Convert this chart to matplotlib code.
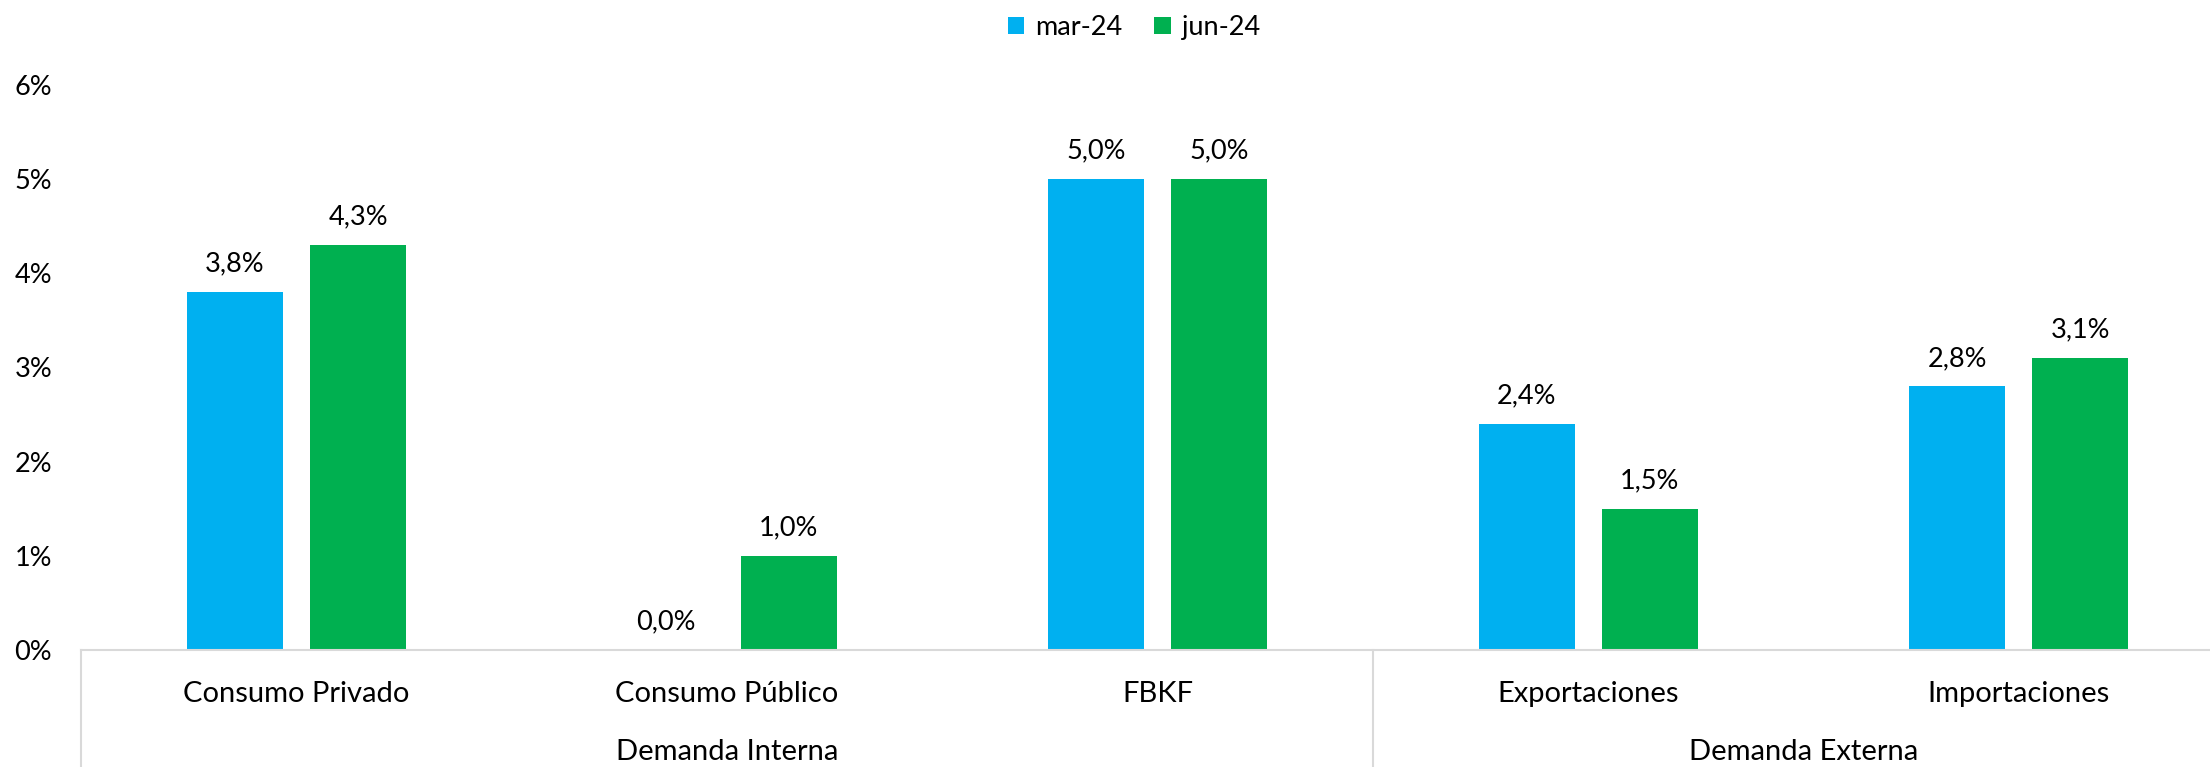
import numpy as np
import matplotlib.pyplot as plt
from matplotlib.transforms import blended_transform_factory

plt.rcParams['font.family'] = ['Lato', 'DejaVu Sans']

# datos
categorias = ['Consumo Privado', 'Consumo Público', 'FBKF', 'Exportaciones', 'Importaciones']
grupos = ['Demanda Interna', 'Demanda Externa']
grupo_tam = [3, 2]
series = ['mar-24', 'jun-24']
mar24 = [3.8, 0.0, 5.0, 2.4, 2.8]
jun24 = [4.3, 1.0, 5.0, 1.5, 3.1]
colores = ['#00B0F0', '#00B050']

fig = plt.figure(figsize=(22.1, 7.67), dpi=100)
ax = fig.add_axes([0.0368, 0.1525, 0.974, 0.737])

x = np.arange(len(categorias))
ancho = 0.223
desp = 0.143

for vals, off, col, nom in zip([mar24, jun24], [-desp, desp], colores, series):
    barras = ax.bar(x + off, vals, ancho, color=col, label=nom)
    for b, v in zip(barras, vals):
        ax.annotate(f'{v:.1f}%'.replace('.', ','), (b.get_x() + b.get_width() / 2, v),
                    xytext=(0, 11), textcoords='offset points',
                    ha='center', va='bottom', fontsize=19.5)

ax.set_xlim(-0.5, len(categorias) - 0.5)
ax.set_ylim(0, 6)
ax.set_yticks(range(0, 7))
ax.set_yticklabels([f'{i}%' for i in range(0, 7)], fontsize=19.5)
ax.tick_params(axis='y', length=0, pad=21)
ax.set_xticks(x)
ax.set_xticklabels(categorias, fontsize=21)
ax.tick_params(axis='x', length=0, pad=22)

for s in ['top', 'right', 'left']:
    ax.spines[s].set_visible(False)
ax.spines['bottom'].set_color('#d9d9d9')
ax.spines['bottom'].set_linewidth(1.5)

# separadores y etiquetas de grupo
trans = blended_transform_factory(ax.transData, ax.transAxes)
inicio = -0.5
for g, n in zip(grupos, grupo_tam):
    ax.plot([inicio, inicio], [0, -0.3], color='#d9d9d9', lw=1.5,
            transform=trans, clip_on=False)
    ax.text(inicio + n / 2, -0.18, g, ha='center', va='center',
            fontsize=21, transform=trans)
    inicio += n
ax.plot([inicio, inicio], [0, -0.3], color='#d9d9d9', lw=1.5,
        transform=trans, clip_on=False)

fig.legend(loc='upper center', bbox_to_anchor=(0.513, 1.012), ncol=2,
           frameon=False, fontsize=19.5, handlelength=0.6, handleheight=0.6,
           handletextpad=0.4, columnspacing=1.2)

plt.savefig('out.png', dpi=100)
